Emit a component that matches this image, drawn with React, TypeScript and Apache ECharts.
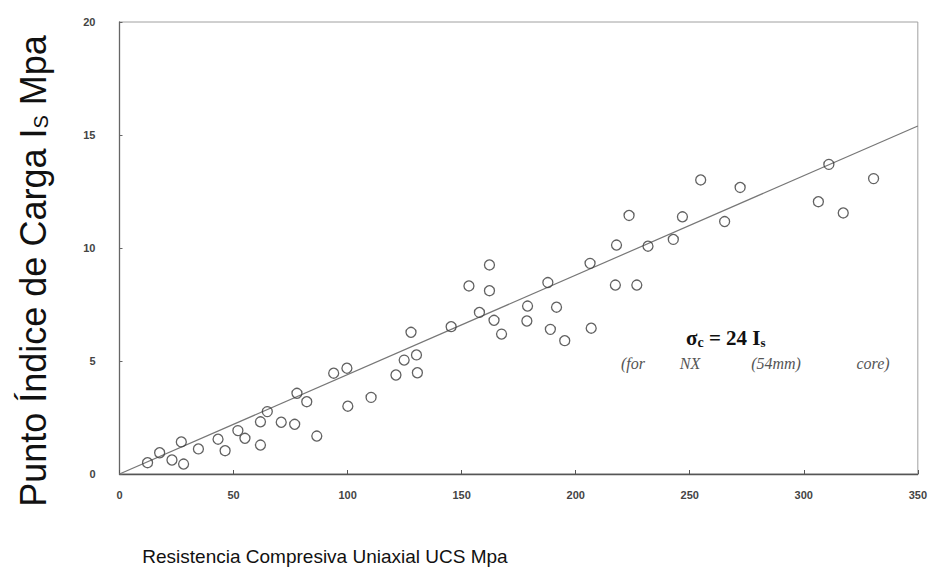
import React, { useEffect, useRef } from "react";
import * as echarts from "echarts";

// Uniaxial compressive strength (MPa)
const ucs = [
  12.3, 17.6, 23.0, 27.1, 28.1, 34.6, 43.2, 46.3, 51.9, 55.0,
  61.8, 61.8, 64.8, 70.9, 76.8, 77.8, 82.1, 86.5, 100.1, 93.9,
  99.7, 110.3, 121.2, 124.8, 130.2, 130.6, 127.8, 145.4, 153.2, 157.8,
  162.2, 162.2, 164.2, 167.5, 178.9, 178.6, 187.8, 191.6, 188.9, 195.2,
  206.3, 206.8, 217.4, 217.9, 223.4, 226.8, 231.7, 242.8, 246.8, 254.8,
  265.3, 272.1, 306.4, 311.0, 317.3, 330.6,
];
// Point load index Is (MPa)
const isValues = [
  0.5, 0.94, 0.62, 1.42, 0.44, 1.11, 1.54, 1.03, 1.92, 1.58,
  1.28, 2.31, 2.76, 2.29, 2.2, 3.57, 3.2, 1.68, 3.0, 4.46,
  4.68, 3.39, 4.38, 5.04, 5.27, 4.48, 6.27, 6.52, 8.32, 7.15,
  9.25, 8.11, 6.8, 6.19, 7.43, 6.77, 8.47, 7.38, 6.4, 5.9,
  9.32, 6.45, 8.36, 10.13, 11.44, 8.36, 10.08, 10.38, 11.38, 13.01,
  11.17, 12.68, 12.05, 13.7, 11.55, 13.07,
];
// Fitted line sigma_c = 24 Is (as drawn)
const fitX = [0, 350];
const fitY = [0, 15.4];

const xTicks = { min: 0, max: 350, interval: 50 };
const yTicks = { min: 0, max: 20, interval: 5 };

const xTitle = "Resistencia Compresiva Uniaxial UCS Mpa";
const yTitleMain = "Punto Índice de Carga I";
const yTitleSub = "S";
const yTitleEnd = " Mpa";
const noteWords = ["(for", "NX", "(54mm)", "core)"];

export default function App() {
  const ref = useRef<HTMLDivElement>(null);
  useEffect(() => {
    if (!ref.current) return;
    const chart = echarts.init(ref.current, undefined, { renderer: "svg" });
    const points = ucs.map((x, i) => [x, isValues[i]]);
    const fit = fitX.map((x, i) => [x, fitY[i]]);
    const labelStyle = {
      fontFamily: "'Liberation Sans Narrow', 'Liberation Sans', Arial, sans-serif",
      fontSize: 11,
      fontWeight: "bold" as const,
      color: "#444",
    };
    const noteCx = [633, 690, 776, 873];
    const serif = "'Liberation Serif', 'DejaVu Serif', serif";
    chart.setOption({
      animation: false,
      backgroundColor: "#ffffff",
      grid: {
        left: 119.5,
        right: 7.2,
        top: 22,
        bottom: 111,
        show: true,
        borderColor: "#a0a0a0",
        borderWidth: 1,
        backgroundColor: "transparent",
      },
      xAxis: {
        type: "value",
        min: xTicks.min,
        max: xTicks.max,
        interval: xTicks.interval,
        axisLine: { show: true, lineStyle: { color: "#555", width: 1.3 } },
        axisTick: { show: true, inside: true, length: 4, lineStyle: { color: "#555" } },
        splitLine: { show: false },
        axisLabel: { ...labelStyle, margin: 15 },
      },
      yAxis: {
        type: "value",
        min: yTicks.min,
        max: yTicks.max,
        interval: yTicks.interval,
        axisLine: { show: true, lineStyle: { color: "#666", width: 1.3 } },
        axisTick: { show: true, inside: true, length: 3, lineStyle: { color: "#666" } },
        splitLine: { show: false },
        axisLabel: { ...labelStyle, margin: 24 },
      },
      series: [
        {
          type: "line",
          data: fit,
          symbol: "none",
          lineStyle: { color: "#777", width: 1.2 },
          z: 1,
        },
        {
          type: "scatter",
          data: points,
          symbol: "circle",
          symbolSize: 10,
          itemStyle: { color: "rgba(255,255,255,0)", borderColor: "#3a3a3a", borderWidth: 1.3 },
          z: 2,
        },
      ],
      graphic: [
        {
          type: "text",
          x: 33,
          y: 271,
          rotation: Math.PI / 2,
          style: {
            text: `{a|${yTitleMain}}{b|${yTitleSub}}{a|${yTitleEnd}}`,
            align: "center",
            verticalAlign: "middle",
            fill: "#111",
            rich: {
              a: { fontSize: 36, lineHeight: 36, fontFamily: "'Liberation Sans', Arial, sans-serif", fill: "#111" },
              b: { fontSize: 20, lineHeight: 12, verticalAlign: "bottom", fontFamily: "'Liberation Sans', Arial, sans-serif", fill: "#111" },
            },
          },
        },
        {
          type: "text",
          x: 325,
          y: 556,
          style: {
            text: xTitle,
            align: "center",
            verticalAlign: "middle",
            fontSize: 19,
            fontFamily: "'Liberation Sans', Arial, sans-serif",
            fill: "#111",
          },
        },
        {
          type: "text",
          x: 686,
          y: 338,
          style: {
            text: "{a|σ}{b|c}{a| = 24 I}{s|s}",
            align: "left",
            verticalAlign: "middle",
            fill: "#111",
            rich: {
              a: { fontSize: 21, lineHeight: 22, fontWeight: "bold", fontFamily: serif, fill: "#111" },
              b: { fontSize: 14, lineHeight: 13, verticalAlign: "bottom", fontWeight: "bold", fontFamily: serif, fill: "#111" },
              s: { fontSize: 13, lineHeight: 10, verticalAlign: "bottom", fontWeight: "bold", fontFamily: serif, fill: "#111" },
            },
          },
        },
        ...noteWords.map((w, i) => ({
          type: "text",
          x: noteCx[i],
          y: 363,
          style: {
            text: w,
            align: "center",
            verticalAlign: "middle",
            fontSize: 16,
            fontStyle: "italic",
            fontFamily: serif,
            fill: "#555",
          },
        })),
      ],
    });
    return () => chart.dispose();
  }, []);
  return (
    <div
      ref={ref}
      style={{ position: "absolute", left: 0, top: 0, width: 930, height: 585, background: "#fff" }}
    />
  );
}
